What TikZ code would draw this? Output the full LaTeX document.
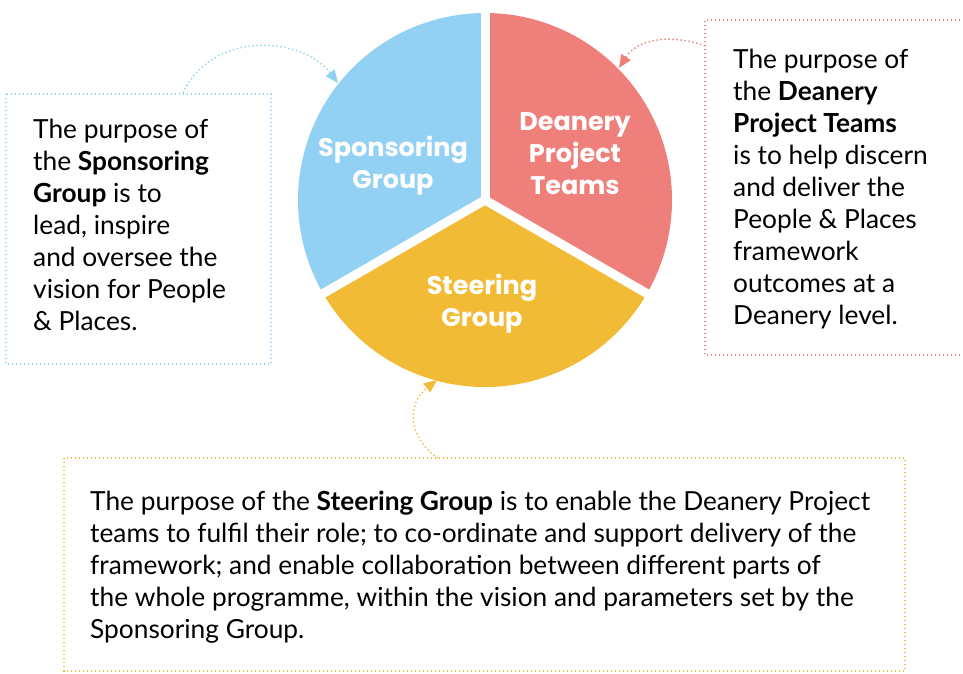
\documentclass[tikz,border=0pt]{standalone}
\usepackage{fontspec}
\setmainfont{Lato}
\newfontfamily\piefont{Poppins}
\usetikzlibrary{arrows.meta}
\definecolor{cblue}{RGB}{146,209,243}
\definecolor{cred}{RGB}{239,127,122}
\definecolor{cyellow}{RGB}{242,187,54}
\tikzset{
  dotbox/.style={line width=1.4pt, dash pattern=on 1.4pt off 2.6pt},
  dotarrow/.style={line width=1.4pt, dash pattern=on 1.4pt off 2.6pt, -{Triangle[length=13pt,width=11pt]}},
  bodytext/.style={anchor=base west, inner sep=0pt, align=left, font=\fontsize{26.3}{32}\selectfont, text=black},
  pielabel/.style={inner sep=0pt, align=center, text=white, font=\piefont\bfseries\fontsize{25.5}{32}\selectfont},
  gapline/.style={white, line width=9pt}
}
\begin{document}
\begin{tikzpicture}[x=1pt,y=-1pt]
\useasboundingbox (0,0) rectangle (963,673);
% pie
\coordinate (c) at (485,200);
\fill[cblue] (c) -- ++(150:187) arc[start angle=150, end angle=270, radius=187] -- cycle;
\fill[cred] (c) -- ++(270:187) arc[start angle=270, end angle=390, radius=187] -- cycle;
\fill[cyellow] (c) -- ++(30:187) arc[start angle=30, end angle=150, radius=187] -- cycle;
\coordinate (g1) at ([shift={(270:200)}]c);
\coordinate (g2) at ([shift={(150:200)}]c);
\coordinate (g3) at ([shift={(30:200)}]c);
\draw[gapline] (c) -- (g1);
\draw[gapline] (c) -- (g2);
\draw[gapline] (c) -- (g3);
\node[pielabel] (lspon) at (393,166) {Sponsoring\\Group};
\node[pielabel] (ldean) at (575,154) {Deanery\\Project\\Teams};
\node[pielabel] (lsteer) at (482,304) {Steering\\Group};
% boxes
\draw[cblue, dotbox] (6,94) rectangle (271,364);
\draw[cred, dotbox] (964,20) -- (705,20) -- (705,355) -- (964,355);
\draw[cyellow, dotbox] (64,458) rectangle (905,671);
% texts (base anchor = last line baseline)
\node[bodytext] (tspon) at (33,330) {The purpose of\\the \textbf{Sponsoring}\\\textbf{Group} is to\\lead, inspire\\and oversee the\\vision for People\\\& Places.};
\node[bodytext] (tdean) at (733,324) {The purpose of\\the \textbf{Deanery}\\\textbf{Project Teams}\\is to help discern\\and deliver the\\People \& Places\\framework\\outcomes at a\\Deanery level.};
\node[bodytext] (tsteer) at (90,638) {The purpose of the \textbf{Steering Group} is to enable the Deanery Project\\teams to fulfil their role; to co-ordinate and support delivery of the\\framework; and enable collaboration between different parts of\\the whole programme, within the vision and parameters set by the\\Sponsoring Group.};
% arrows
\coordinate (sb) at (183,93);
\coordinate (st) at (338,83);
\draw[cblue, dotarrow] (sb) .. controls (212,30) and (302,36) .. (st);
\coordinate (db) at (705,46);
\coordinate (dt) at (619,68);
\draw[cred, dotarrow] (db) .. controls (680,36) and (640,35) .. (dt);
\coordinate (yb) at (438,458);
\coordinate (yt) at (437,380);
\draw[cyellow, dotarrow] (yb) .. controls (410,440) and (405,405) .. (yt);
\end{tikzpicture}
\end{document}
